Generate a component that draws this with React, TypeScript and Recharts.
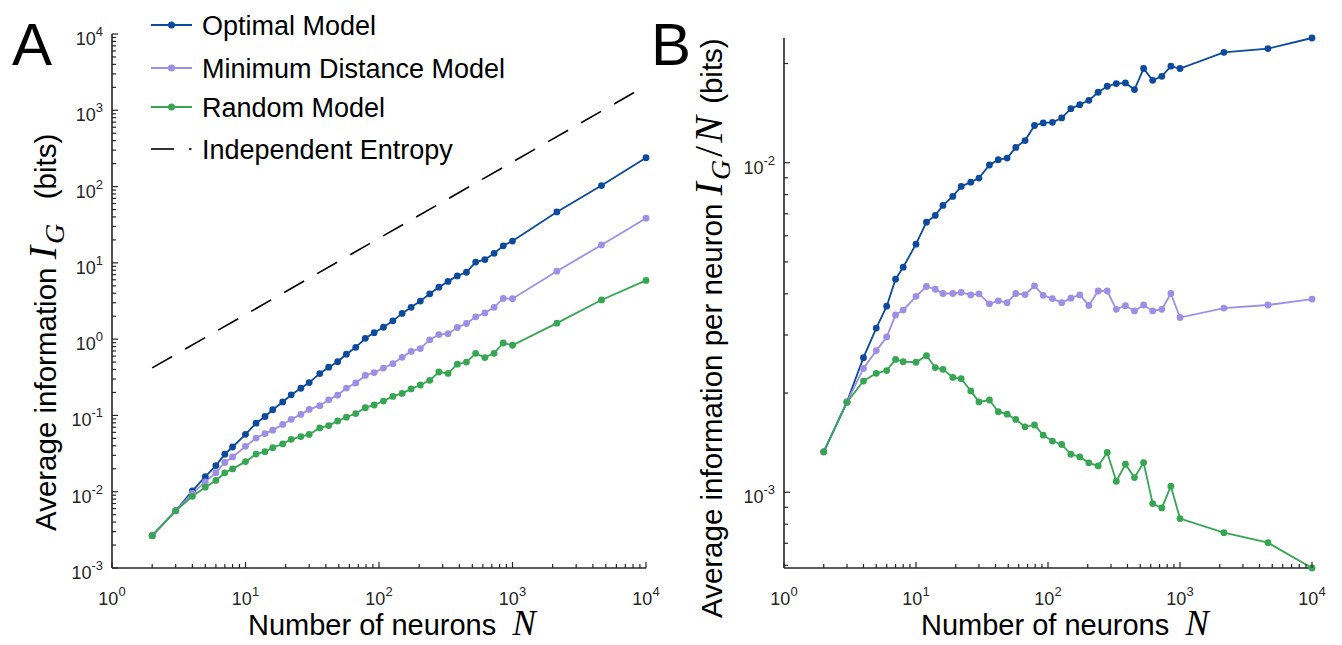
import React from 'react';
import { LineChart, Line, XAxis, YAxis } from 'recharts';

// number of neurons N (shared by all series)
const neurons = [2, 3, 4, 5, 6, 7, 8, 10, 12, 14, 16, 19, 22, 26, 30, 36, 42, 49, 57, 67, 79, 92, 108, 127, 149, 174, 204, 240, 281, 329, 386, 452, 530, 621, 728, 853, 1000, 2150, 4640, 10000];

// average information per neuron I_G/N (bits)
const optimalPerNeuron = [0.001326, 0.00188, 0.00256, 0.00315, 0.00367, 0.00443, 0.00482, 0.00566, 0.0066, 0.00692, 0.00742, 0.0079, 0.00847, 0.00873, 0.00898, 0.00984, 0.01021, 0.01033, 0.01113, 0.01167, 0.01297, 0.0132, 0.01326, 0.01367, 0.01459, 0.015, 0.01546, 0.01636, 0.01706, 0.01738, 0.01746, 0.01667, 0.01931, 0.01778, 0.01828, 0.01963, 0.01931, 0.02163, 0.0222, 0.0239];
const minDistPerNeuron = [0.001326, 0.00188, 0.002376, 0.00269, 0.00296, 0.00345, 0.00357, 0.00393, 0.00421, 0.00413, 0.00401, 0.00401, 0.00404, 0.00397, 0.004, 0.00373, 0.00381, 0.00376, 0.00401, 0.00398, 0.00423, 0.00396, 0.00387, 0.00376, 0.00388, 0.00397, 0.00369, 0.00408, 0.00408, 0.00359, 0.00368, 0.00355, 0.0037, 0.00355, 0.00359, 0.00401, 0.00339, 0.00362, 0.0037, 0.003855];
const randomPerNeuron = [0.001326, 0.001875, 0.002175, 0.002295, 0.00234, 0.00253, 0.00249, 0.00248, 0.002595, 0.00239, 0.00236, 0.00223, 0.00221, 0.00203, 0.00188, 0.001905, 0.001755, 0.001726, 0.001663, 0.00158, 0.0016, 0.00149, 0.00143, 0.001396, 0.001304, 0.00128, 0.001228, 0.001202, 0.00132, 0.00108, 0.001216, 0.001108, 0.00123, 0.000924, 0.000896, 0.001043, 0.000832, 0.000754, 0.000703, 0.000589];

// independent entropy (bits), straight line in log-log
const entropyN = [2, 10000];
const entropyBits = [0.42, 2100];

const xLabels = [1, 10, 100, 1000, 10000];
const yLabelsA = [1e-3, 1e-2, 1e-1, 1, 10, 100, 1000, 10000];
const yLabelsB = [1e-3, 1e-2];

const BLUE = '#0b4a9c';
const PURPLE = '#9d8ee6';
const GREEN = '#36a653';
const AXIS = '#262626';
const SANS = '"Liberation Sans", Arial, Helvetica, sans-serif';
const SERIF = '"Liberation Serif", "Times New Roman", serif';

const dataA = neurons.map((n, i) => ({
  n,
  optimal: optimalPerNeuron[i] * n,
  minDist: minDistPerNeuron[i] * n,
  random: randomPerNeuron[i] * n,
  entropy: entropyN.includes(n) ? entropyBits[entropyN.indexOf(n)] : null,
}));

const dataB = neurons.map((n, i) => ({
  n,
  optimal: optimalPerNeuron[i],
  minDist: minDistPerNeuron[i],
  random: randomPerNeuron[i],
}));

const yMinB = Math.min(...randomPerNeuron);
const yMaxB = Math.max(...optimalPerNeuron);

// 1..9 x 10^k ticks inside [lo, hi]
function logTicks(lo: number, hi: number) {
  const out: number[] = [];
  for (let e = Math.floor(Math.log10(lo)); e <= Math.ceil(Math.log10(hi)); e++) {
    for (let d = 1; d < 10; d++) {
      const v = d * Math.pow(10, e);
      if (v >= lo * 0.9999 && v <= hi * 1.0001) out.push(v);
    }
  }
  return out;
}

const isLabeled = (v: number, labels: number[]) => labels.some((l) => Math.abs(l - v) / l < 1e-6);
const expOf = (v: number) => String(Math.round(Math.log10(v)));

function XTick(props: any) {
  const { x, y, payload } = props;
  const major = isLabeled(payload.value, xLabels);
  return (
    <g>
      <line x1={x} x2={x} y1={y} y2={y - (major ? 6 : 4)} stroke={AXIS} strokeWidth={1.2} />
      {major && (
        <text x={x} y={y + 37} textAnchor="middle" fontSize={18} fontFamily={SANS} fill={AXIS}>
          10<tspan dy={-9} fontSize={13}>{expOf(payload.value)}</tspan>
        </text>
      )}
    </g>
  );
}

function makeYTick(labels: number[], drop: number) {
  return function YTick(props: any) {
    const { x, y, payload } = props;
    const v = payload.value;
    const decade = Math.abs(Math.log10(v) - Math.round(Math.log10(v))) < 1e-6;
    const labeled = isLabeled(v, labels);
    return (
      <g>
        <line x1={x} x2={x + (decade ? 6 : 4)} y1={y} y2={y} stroke={AXIS} strokeWidth={1.2} />
        {labeled && (
          <text x={x - 9} y={y + drop} textAnchor="end" fontSize={18} fontFamily={SANS} fill={AXIS}>
            10<tspan dy={-9} fontSize={13}>{expOf(v)}</tspan>
          </text>
        )}
      </g>
    );
  };
}

const YTickA = makeYTick(yLabelsA, 11);
const YTickB = makeYTick(yLabelsB, 11);

const dot = (c: string) => ({ r: 3.4, fill: c, stroke: c, strokeWidth: 0 });

function Overlay() {
  const legend = [
    { name: 'Optimal Model', color: BLUE, y: 25 },
    { name: 'Minimum Distance Model', color: PURPLE, y: 68 },
    { name: 'Random Model', color: GREEN, y: 107 },
  ];
  return (
    <svg width={1342} height={645} style={{ position: 'absolute', left: 0, top: 0, pointerEvents: 'none' }}>
      <text x={12} y={65} fontSize={60} fontFamily={SANS} fill="#000">A</text>
      <text x={651} y={65} fontSize={60} fontFamily={SANS} fill="#000">B</text>

      {legend.map((l) => (
        <g key={l.name}>
          <line x1={151} x2={192} y1={l.y} y2={l.y} stroke={l.color} strokeWidth={2} />
          <circle cx={171.5} cy={l.y} r={3.5} fill={l.color} />
          <text x={202} y={l.y + 9.5} fontSize={27} fontFamily={SANS} fill="#000">{l.name}</text>
        </g>
      ))}
      <line x1={151} x2={174} y1={149} y2={149} stroke="#000" strokeWidth={1.6} />
      <line x1={189} x2={191.5} y1={149} y2={149} stroke="#000" strokeWidth={1.6} />
      <text x={202} y={158.5} fontSize={27} fontFamily={SANS} fill="#000">Independent Entropy</text>

      {/* x labels */}
      <text x={248} y={635} fontSize={29} fontFamily={SANS} fill="#000">
        Number of neurons{'\u00A0\u00A0'}
        <tspan fontFamily={SERIF} fontStyle="italic" fontSize={35}>N</tspan>
      </text>
      <text x={921} y={635} fontSize={29} fontFamily={SANS} fill="#000">
        Number of neurons{'\u00A0\u00A0'}
        <tspan fontFamily={SERIF} fontStyle="italic" fontSize={35}>N</tspan>
      </text>

      {/* y labels: rotated, text x = -(page y) */}
      <text transform="translate(56,0) rotate(-90)" x={-531} fontSize={29.5} fontFamily={SANS} fill="#000">
        Average information{'\u00A0'}
        <tspan fontFamily={SERIF} fontStyle="italic" fontSize={40}>I</tspan>
        <tspan fontFamily={SERIF} fontStyle="italic" fontSize={28} dx={2} dy={8}>G</tspan>
        <tspan dy={-8} dx={8}>{'\u00A0\u00A0'}(bits)</tspan>
      </text>
      <text transform="translate(722,0) rotate(-90)" x={-618} fontSize={29.5} fontFamily={SANS} fill="#000">
        Average information per neuron{'\u00A0'}
        <tspan fontFamily={SERIF} fontStyle="italic" fontSize={40}>I</tspan>
        <tspan fontFamily={SERIF} fontStyle="italic" fontSize={28} dx={2} dy={8}>G</tspan>
        <tspan fontFamily={SERIF} fontSize={40} dx={3} dy={-8}>/</tspan>
        <tspan fontFamily={SERIF} fontStyle="italic" fontSize={40} dx={3}>N</tspan>
        <tspan dx={4}>{'\u00A0'}(bits)</tspan>
      </text>
    </svg>
  );
}

export default function App() {
  const axisLine = { stroke: AXIS, strokeWidth: 1.6 };
  return (
    <div style={{ position: 'relative', width: 1342, height: 645, background: '#fff', overflow: 'hidden' }}>
      <style>{'body{margin:0}'}</style>

      <div style={{ position: 'absolute', left: 0, top: 0 }}>
        <LineChart width={660} height={645} data={dataA} margin={{ top: 34, right: 14, bottom: 47, left: 52 }}>
          <XAxis
            dataKey="n"
            type="number"
            scale="log"
            domain={[1, 10000]}
            ticks={logTicks(1, 10000)}
            interval={0}
            tick={<XTick />}
            tickLine={false}
            tickSize={0}
            tickMargin={0}
            axisLine={axisLine}
            height={30}
          />
          <YAxis
            type="number"
            scale="log"
            domain={[1e-3, 1e4]}
            ticks={logTicks(1e-3, 1e4)}
            interval={0}
            tick={<YTickA />}
            tickLine={false}
            tickSize={0}
            tickMargin={0}
            axisLine={axisLine}
            width={60}
          />
          <Line dataKey="entropy" stroke="#000" strokeWidth={1.6} strokeDasharray="23 15" dot={false} connectNulls isAnimationActive={false} />
          <Line dataKey="optimal" stroke={BLUE} strokeWidth={1.8} dot={dot(BLUE)} isAnimationActive={false} />
          <Line dataKey="minDist" stroke={PURPLE} strokeWidth={1.8} dot={dot(PURPLE)} isAnimationActive={false} />
          <Line dataKey="random" stroke={GREEN} strokeWidth={1.8} dot={dot(GREEN)} isAnimationActive={false} />
        </LineChart>
      </div>

      <div style={{ position: 'absolute', left: 680, top: 0 }}>
        <LineChart width={662} height={645} data={dataB} margin={{ top: 38, right: 30, bottom: 47, left: 44 }}>
          <XAxis
            dataKey="n"
            type="number"
            scale="log"
            domain={[1, 10000]}
            ticks={logTicks(1, 10000)}
            interval={0}
            tick={<XTick />}
            tickLine={false}
            tickSize={0}
            tickMargin={0}
            axisLine={axisLine}
            height={30}
          />
          <YAxis
            type="number"
            scale="log"
            domain={[yMinB, yMaxB]}
            ticks={logTicks(yMinB, yMaxB)}
            interval={0}
            tick={<YTickB />}
            tickLine={false}
            tickSize={0}
            tickMargin={0}
            axisLine={axisLine}
            width={60}
          />
          <Line dataKey="optimal" stroke={BLUE} strokeWidth={1.8} dot={dot(BLUE)} isAnimationActive={false} />
          <Line dataKey="minDist" stroke={PURPLE} strokeWidth={1.8} dot={dot(PURPLE)} isAnimationActive={false} />
          <Line dataKey="random" stroke={GREEN} strokeWidth={1.8} dot={dot(GREEN)} isAnimationActive={false} />
        </LineChart>
      </div>

      <Overlay />
    </div>
  );
}
